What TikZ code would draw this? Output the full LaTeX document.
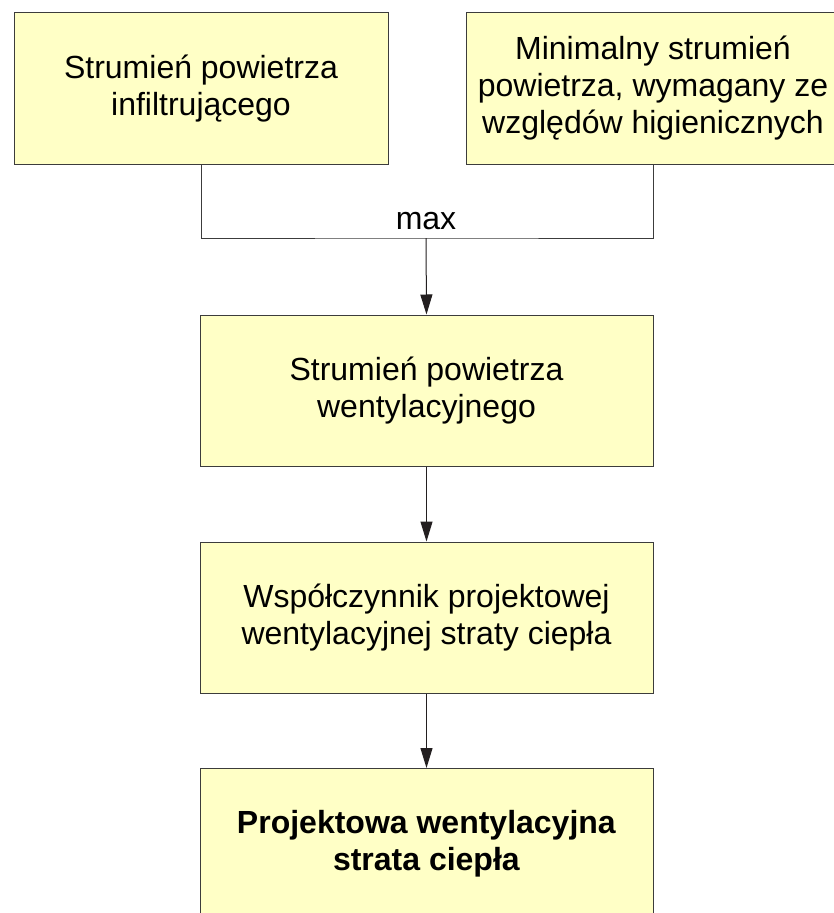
\documentclass[tikz,border=0pt]{standalone}
\usepackage{fontspec}
\setmainfont{Liberation Sans}
\usepackage{tikz}
\usetikzlibrary{arrows.meta, positioning}
\definecolor{flowFill}{HTML}{FFFFC6}
\definecolor{flowLine}{HTML}{3C3C3C}
\definecolor{flowArrow}{HTML}{231F20}

\begin{document}
\begin{tikzpicture}[
  x=1pt, y=-1pt,
  font=\fontsize{32}{37}\selectfont,
  box/.style={draw=flowLine, line width=1pt, fill=flowFill, inner sep=0pt,
              minimum width=374pt, minimum height=152pt, align=center},
  midbox/.style={box, minimum width=453pt, minimum height=151pt},
  a/.style={-{Triangle[length=20pt, width=12pt]}, line width=1pt, draw=flowArrow},
  link/.style={line width=1pt, draw=flowLine}
]
\useasboundingbox (0,0) rectangle (833,913);
\node[box] (infil) at (201,88.5) {Strumień powietrza\\infiltrującego};
\node[box] (hyg) at (653,88.5) {Minimalny strumień\\powietrza, wymagany ze\\względów higienicznych};
\node[midbox] (vent) at (426.5,390.5) {Strumień powietrza\\wentylacyjnego};
\node[midbox] (coef) at (426.5,617.5) {Współczynnik projektowej\\wentylacyjnej straty ciepła};
\node[midbox] (loss) at (426.5,844) {\textbf{Projektowa wentylacyjna}\\\textbf{strata ciepła}};
\coordinate (merge) at (426,238);
\node[anchor=base, inner sep=0pt] (maxlbl) at (426,229) {max};
\draw[link] (infil.south) |- (merge) -| (hyg.south);
\draw[a] (merge) -- (vent.north);
\draw[a] (vent) -- (coef);
\draw[a] (coef) -- (loss);
\end{tikzpicture}
\end{document}
